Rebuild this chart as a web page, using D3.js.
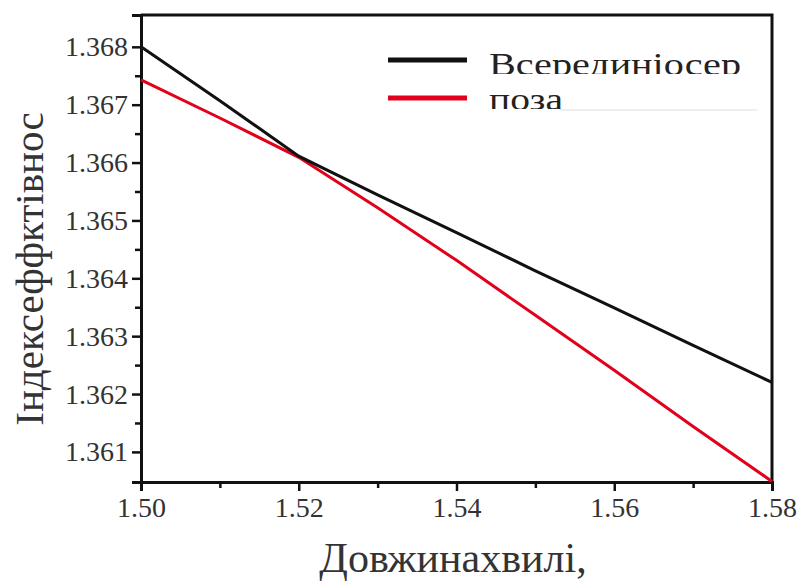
<!DOCTYPE html>
<html>
<head>
<meta charset="utf-8">
<script src="https://cdn.jsdelivr.net/npm/d3@7"></script>
<style>
  html, body { margin: 0; padding: 0; background: #fff; }
  svg { display: block; }
</style>
</head>
<body>
<svg id="chart" width="802" height="583"></svg>
<script>
// Wavelength samples (x) and effective index for the two cases
const wavelengths = [1.50, 1.51, 1.52, 1.53, 1.54, 1.55, 1.56, 1.57, 1.58];
const insideCore  = [1.36800, 1.36707, 1.36611, 1.36544, 1.36479, 1.36413, 1.36349, 1.36284, 1.36220];
const outsideCore = [1.36743, 1.36677, 1.36609, 1.36522, 1.36431, 1.36336, 1.36241, 1.36144, 1.36049];
const seriesNames = ["Всерединіосер", "поза"];
const xTicks = [1.50, 1.52, 1.54, 1.56, 1.58];
const yTicks = [1.361, 1.362, 1.363, 1.364, 1.365, 1.366, 1.367, 1.368];
const xTitle = "Довжинахвилі,";
const yTitle = "Індексеффктівнос";

const SERIF = "'Liberation Serif', 'Times New Roman', serif";
const svg = d3.select("#chart");
const m = { left: 141, right: 772, top: 15, bottom: 482 };

const x = d3.scaleLinear().domain([1.50, 1.58]).range([m.left, m.right]);
const y = d3.scaleLinear().domain([1.36048, 1.36855]).range([m.bottom, m.top]);

// frame: top and right edges
svg.append("path")
  .attr("d", `M${m.left},${m.top}H${m.right}V${m.bottom}`)
  .attr("fill", "none").attr("stroke", "#111").attr("stroke-width", 3);

// minor ticks at half steps
const xMinor = [1.51, 1.53, 1.55, 1.57];
const yMinor = [1.3615, 1.3625, 1.3635, 1.3645, 1.3655, 1.3665, 1.3675];

const gx = svg.append("g").attr("transform", `translate(0,${m.bottom})`)
  .call(d3.axisBottom(x).tickValues(xTicks).tickFormat(d3.format(".2f")).tickSize(9).tickPadding(6));
const gxm = svg.append("g").attr("transform", `translate(0,${m.bottom})`)
  .call(d3.axisBottom(x).tickValues(xMinor).tickFormat("").tickSize(6));
const gy = svg.append("g").attr("transform", `translate(${m.left},0)`)
  .call(d3.axisLeft(y).tickValues(yTicks).tickFormat(d3.format(".3f")).tickSize(9).tickPadding(4));
const gym = svg.append("g").attr("transform", `translate(${m.left},0)`)
  .call(d3.axisLeft(y).tickValues(yMinor).tickFormat("").tickSize(6));

[gx, gxm, gy, gym].forEach(g => {
  g.attr("font-family", SERIF).attr("font-size", 28);
  g.select(".domain").attr("stroke", "#111").attr("stroke-width", 3);
  g.selectAll(".tick line").attr("stroke", "#111").attr("stroke-width", 2.5);
  g.selectAll(".tick text").attr("fill", "#333");
});
gxm.select(".domain").remove();
gym.select(".domain").remove();

// data lines
const line = d3.line().x((d, i) => x(wavelengths[i])).y(d => y(d));
svg.append("path").datum(outsideCore).attr("d", line)
  .attr("fill", "none").attr("stroke", "#e3001b").attr("stroke-width", 3);
svg.append("path").datum(insideCore).attr("d", line)
  .attr("fill", "none").attr("stroke", "#111").attr("stroke-width", 3);

// axis titles
svg.append("text").attr("x", 453).attr("y", 572)
  .attr("text-anchor", "middle").attr("fill", "#333")
  .attr("font-family", SERIF).attr("font-size", 42).text(xTitle);
svg.append("text").attr("transform", "translate(43,269) rotate(-90)")
  .attr("text-anchor", "middle").attr("fill", "#333")
  .attr("font-family", SERIF).attr("font-size", 41).text(yTitle);

// legend (labels clipped at their baselines)
const defs = svg.append("defs");
const legend = [
  { name: seriesNames[0], color: "#111", ly: 60, base: 74, width: 252 },
  { name: seriesNames[1], color: "#e3001b", ly: 98, base: 109, width: 74 }
];
legend.forEach((d, i) => {
  defs.append("clipPath").attr("id", "lc" + i)
    .append("rect").attr("x", 480).attr("y", d.base - 40).attr("width", 280).attr("height", 40);
  svg.append("line").attr("x1", 388).attr("x2", 467).attr("y1", d.ly).attr("y2", d.ly)
    .attr("stroke", d.color).attr("stroke-width", 5);
  svg.append("text").attr("x", 489).attr("y", d.base + 1)
    .attr("clip-path", `url(#lc${i})`).attr("fill", "#222")
    .attr("font-family", SERIF).attr("font-size", 31)
    .attr("textLength", d.width).attr("lengthAdjust", "spacingAndGlyphs")
    .text(d.name);
});
svg.append("line").attr("x1", 560).attr("x2", 757).attr("y1", 110).attr("y2", 110)
  .attr("stroke", "#ddd").attr("stroke-width", 1);
</script>
</body>
</html>
